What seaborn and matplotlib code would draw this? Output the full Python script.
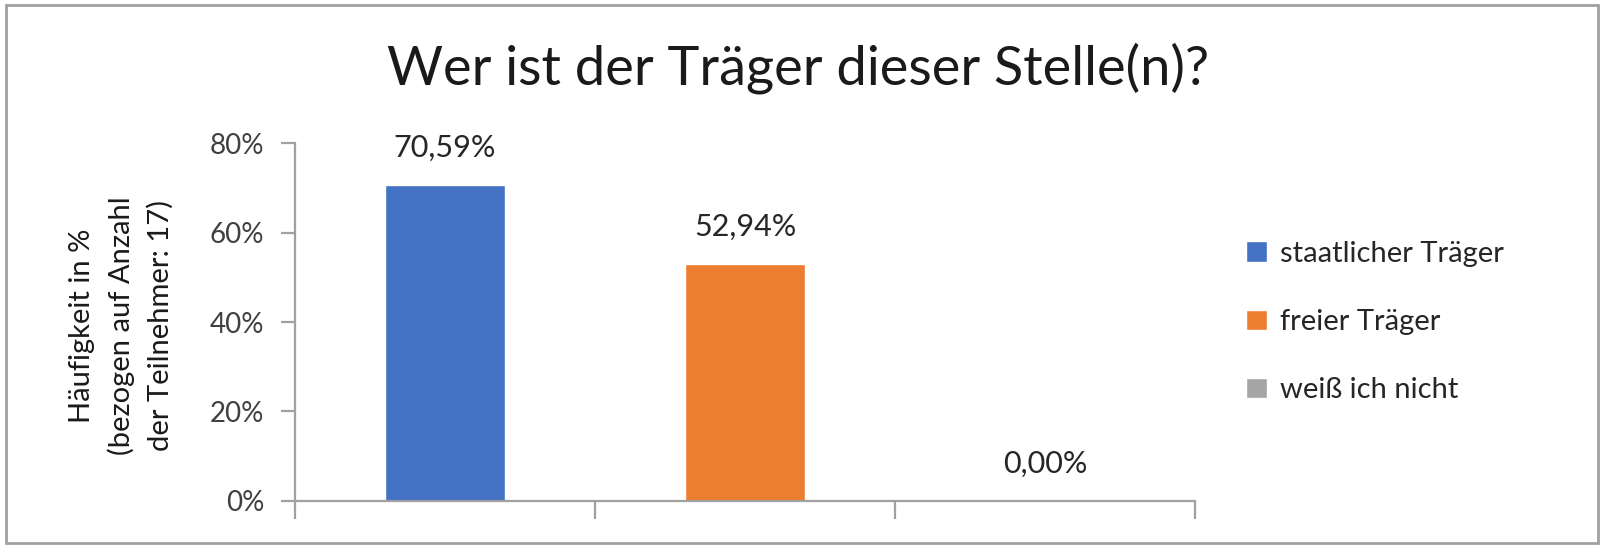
import matplotlib
matplotlib.use("Agg")
import matplotlib.pyplot as plt
import seaborn as sns
import pandas as pd
from matplotlib.patches import Rectangle
from matplotlib.ticker import FuncFormatter

# data
categories = ["staatlicher Träger", "freier Träger", "weiß ich nicht"]
values = [70.59, 52.94, 0.00]
colors = ["#4472C4", "#ED7D31", "#A5A5A5"]
yticks = [0, 20, 40, 60, 80]

title = "Wer ist der Träger dieser Stelle(n)?"
ylabel = "Häufigkeit in %\n(bezogen auf Anzahl\nder Teilnehmer: 17)"

sns.set_style("white")
plt.rcParams["font.family"] = ["Lato", "DejaVu Sans"]

df = pd.DataFrame({"kategorie": categories, "wert": values})

fig = plt.figure(figsize=(16.04, 5.48), dpi=100)
ax = fig.add_axes([0.1839, 0.0858, 0.5611, 0.6532])

sns.barplot(data=df, x="kategorie", y="wert", hue="kategorie",
            palette=colors, width=0.4, dodge=False, ax=ax,
            saturation=1, legend=True)

# value labels above bars
for i, v in enumerate(values):
    ax.annotate(f"{v:.2f}".replace(".", ",") + "%", (i, v),
                xytext=(0, 17), textcoords="offset points",
                ha="center", va="bottom", fontsize=22, color="#262626")

ax.set_ylim(0, 80)
ax.set_yticks(yticks)
ax.yaxis.set_major_formatter(FuncFormatter(lambda v, p: f"{v:.0f}%"))
ax.set_xlim(-0.5, 2.5)
ax.set_xticks([-0.5, 0.5, 1.5, 2.5])
ax.set_xticklabels([])
ax.set_xlabel("")
ax.set_ylabel(ylabel, fontsize=21, linespacing=1.55, color="#1a1a1a")
ax.yaxis.set_label_coords(-0.135, 0.489)

grey = "#A0A0A0"
for side in ["top", "right"]:
    ax.spines[side].set_visible(False)
for side in ["left", "bottom"]:
    ax.spines[side].set_color(grey)
    ax.spines[side].set_linewidth(1.6)
ax.tick_params(axis="y", direction="out", length=10, width=1.6, color=grey,
               labelsize=20, labelcolor="#404040", pad=12, left=True)
ax.tick_params(axis="x", direction="out", length=13, width=1.6, color=grey,
               bottom=True)

# legend on the right
handles, labels = ax.get_legend_handles_labels()
ax.legend(handles, labels, loc="center left", bbox_to_anchor=(1.028, 0.5),
          frameon=False, fontsize=21, handlelength=0.7, handleheight=0.7,
          handletextpad=0.45, labelspacing=1.45)

fig.text(0.4975, 0.876, title, ha="center", va="center", fontsize=39,
         color="#1a1a1a")

# grey frame around the whole chart
fig.patches.append(Rectangle((0.004, 0.009), 0.992, 0.982,
                             transform=fig.transFigure, fill=False,
                             edgecolor=grey, linewidth=2))

fig.savefig("out.png", dpi=100)
